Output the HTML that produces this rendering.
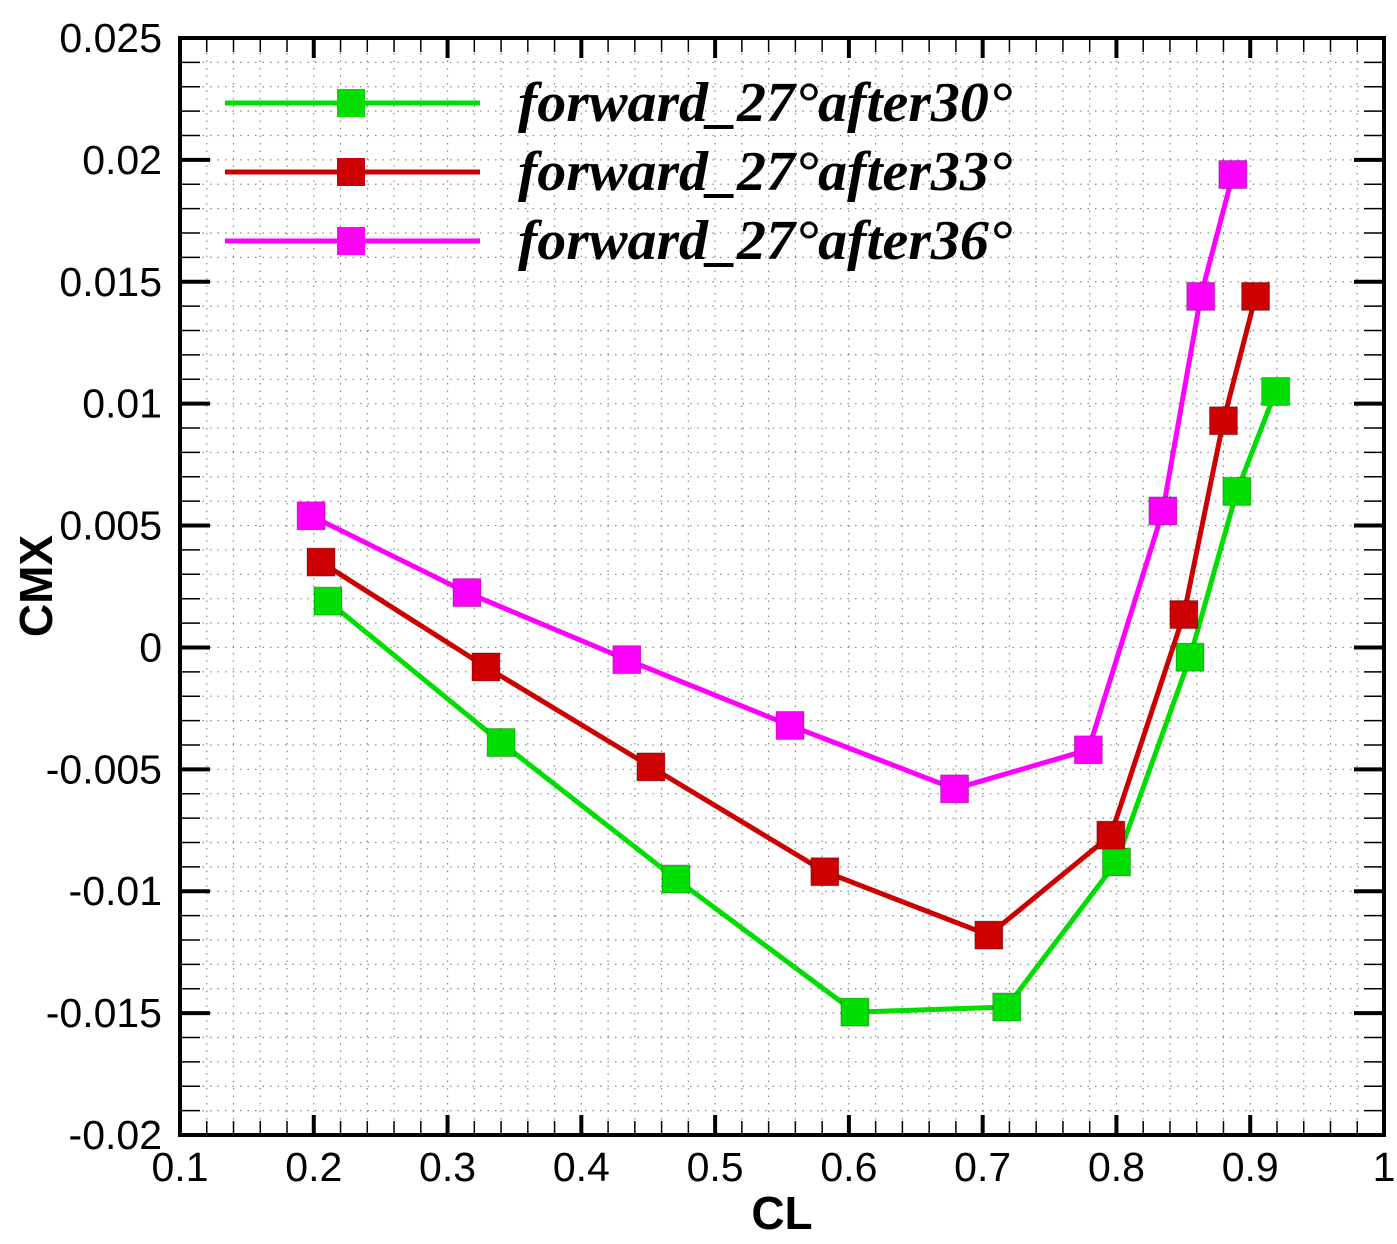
<!DOCTYPE html>
<html><head><meta charset="utf-8"><style>
html,body{margin:0;padding:0;background:#fff;}
svg{display:block;}
</style></head><body>
<svg id="chart" width="1397" height="1244" xmlns="http://www.w3.org/2000/svg" font-family="Liberation Sans, sans-serif">
<g id="grid"></g>
<g id="ticks"></g>
<g id="series"></g>
<rect x="180" y="38" width="1204" height="1097" fill="none" stroke="#000" stroke-width="4"/>
<g id="labels" font-size="41"></g>
<text x="782" y="1229" font-size="46" font-weight="bold" text-anchor="middle">CL</text>
<text transform="translate(52,586) rotate(-90)" font-size="46" font-weight="bold" text-anchor="middle">CMX</text>
<g id="legend"></g>
</svg>
<script>
const xTicks=[0.1,0.2,0.3,0.4,0.5,0.6,0.7,0.8,0.9,1];
const xTickLabels=["0.1","0.2","0.3","0.4","0.5","0.6","0.7","0.8","0.9","1"];
const yTicks=[0.025,0.02,0.015,0.01,0.005,0,-0.005,-0.01,-0.015,-0.02];
const yTickLabels=["0.025","0.02","0.015","0.01","0.005","0","-0.005","-0.01","-0.015","-0.02"];
const seriesNames=["forward_27°after30°","forward_27°after33°","forward_27°after36°"];
const seriesColors=["#00dd00","#cc0000","#ff00ff"];
const cl30=[0.2106,0.340,0.4707,0.6045,0.718,0.800,0.855,0.890,0.919];
const cmx30=[0.0019,-0.0039,-0.0095,-0.01496,-0.01475,-0.0088,-0.0004,0.0064,0.0105];
const cl33=[0.2054,0.3287,0.452,0.582,0.7046,0.7958,0.8504,0.880,0.904];
const cmx33=[0.0035,-0.0008,-0.0049,-0.0092,-0.0118,-0.0077,0.00135,0.0093,0.0144];
const cl36=[0.198,0.3145,0.434,0.556,0.679,0.779,0.8347,0.863,0.887];
const cmx36=[0.0054,0.00225,-0.0005,-0.0032,-0.0058,-0.0042,0.0056,0.0144,0.0194];

const NS="http://www.w3.org/2000/svg";
const X0=180,X1=1384,Y0=38,Y1=1135;
const xs=v=>X0+(v-0.1)/0.9*(X1-X0);
const ys=v=>Y0+(0.025-v)/0.045*(Y1-Y0);
function mk(tag,parent,attrs){const e=document.createElementNS(NS,tag);for(const k in attrs)e.setAttribute(k,attrs[k]);parent.appendChild(e);return e;}
const grid=document.getElementById('grid'),ticks=document.getElementById('ticks'),labels=document.getElementById('labels');
for(let i=0;i<=45;i++){const v=0.1+i*0.02;if(v>1.0001)break;const x=xs(v);
 const gl=mk('line',grid,{x1:x,x2:x,y1:Y0,y2:Y1,stroke:'#888','stroke-width':1.2,'stroke-dasharray':'1.5 6'});
 
 
 const major=i%5===0;
 for(const yb of [Y1,Y0]){const t=mk('line',ticks,{x1:x,x2:x,y1:yb,y2:yb===Y1?yb-(major?20:14):yb+(major?20:14),stroke:'#000','stroke-width':major?4:1.5});
 
 }
}
for(let i=0;i<=45;i++){const v=0.025-i*0.001;const y=ys(v);
 const gl=mk('line',grid,{x1:X0,x2:X1,y1:y,y2:y,stroke:'#888','stroke-width':1.2,'stroke-dasharray':'1.5 6'});
 
 
 const major=i%5===0;
 for(const xb of [X0,X1]){const t=mk('line',ticks,{x1:xb,x2:xb===X0?xb+(major?30:20):xb-(major?30:20),y1:y,y2:y,stroke:'#000','stroke-width':major?4:1.5});
 
 }
}
xTicks.forEach((v,i)=>{const t=mk('text',labels,{x:xs(v),y:1181,'text-anchor':'middle'});t.textContent=xTickLabels[i];
 
 });
yTicks.forEach((v,i)=>{const t=mk('text',labels,{x:162,y:ys(v)+14,'text-anchor':'end'});t.textContent=yTickLabels[i];
 
 });
const data=[[cl30,cmx30],[cl33,cmx33],[cl36,cmx36]];
const sg=document.getElementById('series');
data.forEach((d,s)=>{const g=mk('g',sg,{});
 
 
 const pts=d[0].map((x,i)=>xs(x)+','+ys(d[1][i])).join(' ');
 const pl=mk('polyline',g,{points:pts,fill:'none',stroke:seriesColors[s],'stroke-width':5,'stroke-linejoin':'round'});
 
 
 d[0].forEach((x,i)=>{const r=mk('rect',g,{x:xs(x)-14,y:ys(d[1][i])-14,width:28,height:28,fill:seriesColors[s],stroke:'rgba(0,0,0,0.25)','stroke-width':1});
  
  });
});
const lg=document.getElementById('legend');
const legendY=[103,172,241];
seriesNames.forEach((n,s)=>{const g=mk('g',lg,{});
 
 
 mk('line',g,{x1:225,x2:480,y1:legendY[s],y2:legendY[s],stroke:seriesColors[s],'stroke-width':5});
 mk('rect',g,{x:337,y:legendY[s]-14,width:28,height:28,fill:seriesColors[s]});
 const t=mk('text',g,{x:518,y:legendY[s]+18,'font-family':'Liberation Serif, serif','font-style':'italic','font-weight':'bold','font-size':56,textLength:494,lengthAdjust:'spacingAndGlyphs'});
 t.textContent=n;});
</script>
</body></html>
